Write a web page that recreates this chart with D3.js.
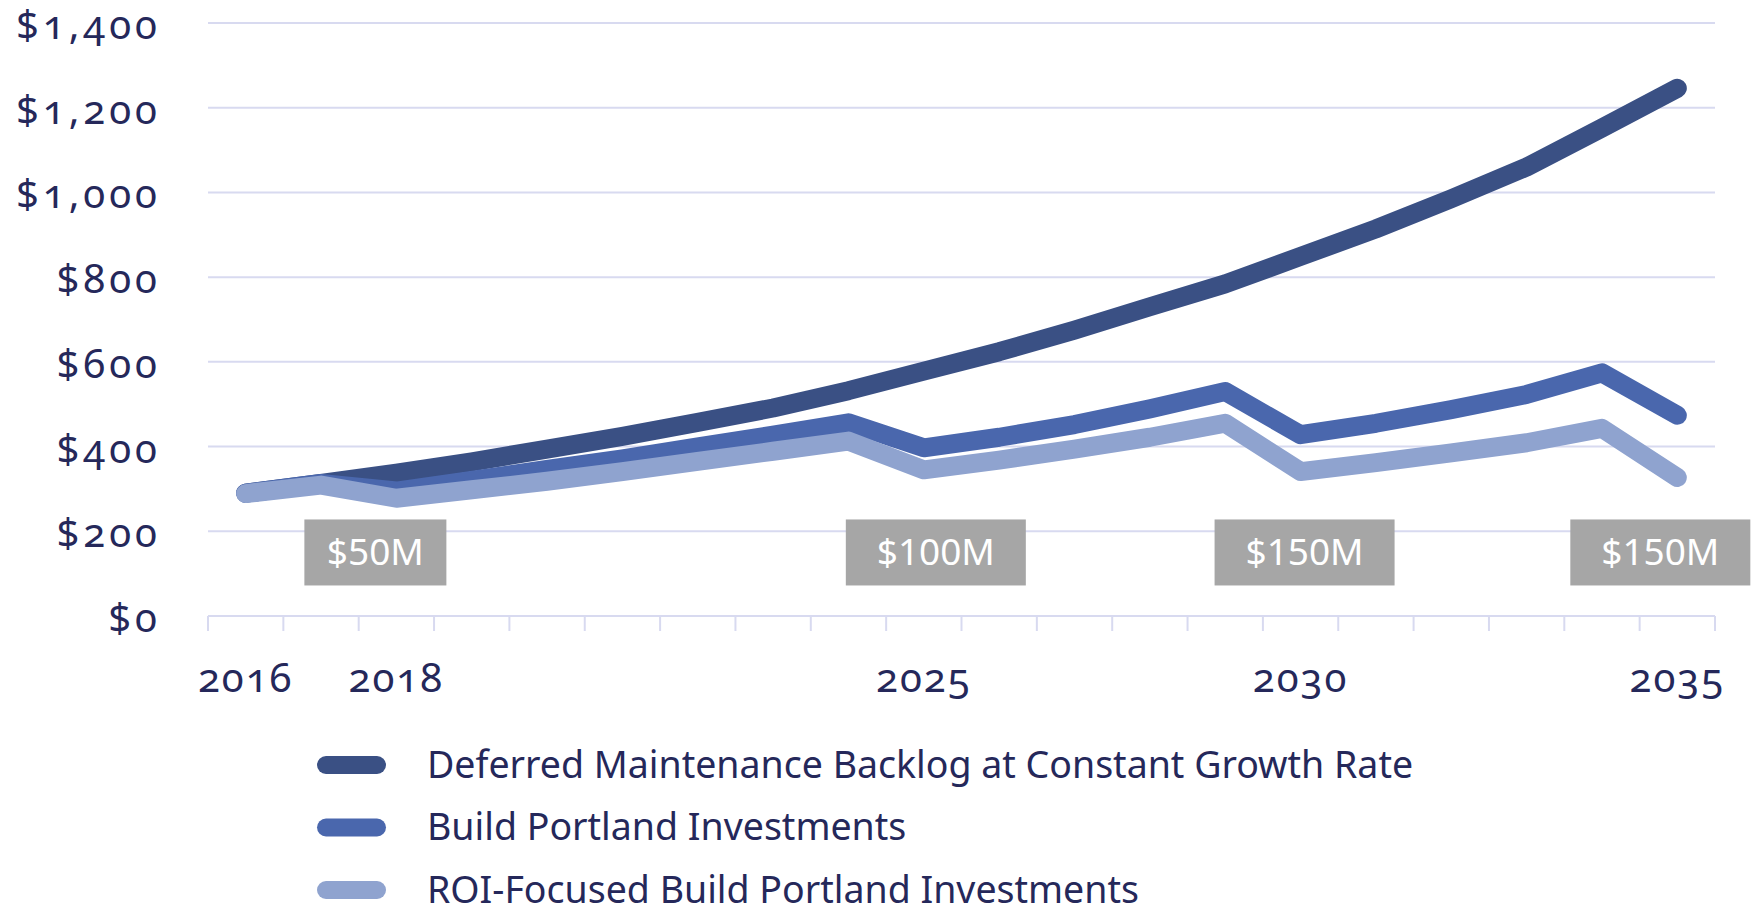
<!DOCTYPE html>
<html>
<head>
<meta charset="utf-8">
<script src="https://cdn.jsdelivr.net/npm/d3@7/dist/d3.min.js"></script>
<style>
  body { margin: 0; background: #fff; }
  text { font-family: "Noto Sans", sans-serif; fill: #25285a; }
  .num { font-variant-numeric: oldstyle-nums; font-feature-settings: "onum"; }
</style>
</head>
<body>
<div id="chart"></div>
<script>
// categories
const years = [2016, 2017, 2018, 2019, 2020, 2021, 2022, 2023, 2024, 2025,
               2026, 2027, 2028, 2029, 2030, 2031, 2032, 2033, 2034, 2035]

// series values ($M)
const backlog       = [290, 313, 337, 364, 394, 424, 457, 491, 532, 578,
                       624, 675, 730, 784, 849, 914, 985, 1060, 1152, 1246]
const buildPortland = [290, 313, 295, 320, 346, 371, 399, 427, 456, 397,
                       422, 452, 489, 530, 428, 455, 487, 523, 574, 474]
const roiFocused    = [289, 309, 278, 298, 318, 341, 365, 389, 413, 345,
                       368, 394, 422, 455, 341, 362, 385, 409, 443, 327]

const seriesNames = [
  "Deferred Maintenance Backlog at Constant Growth Rate",
  "Build Portland Investments",
  "ROI-Focused Build Portland Investments"
]
const seriesColors = ["#3a5084", "#4a67ad", "#8fa3cf"]

// tick labels
const yTicks = [0, 200, 400, 600, 800, 1000, 1200, 1400]
const xTickLabels = [2016, 2018, 2025, 2030, 2035]

// investment call-outs
const investLabels = ["$50M", "$100M", "$150M", "$150M"]
const investYears  = [2018, 2025, 2030, 2035]
const investNudge  = [-21, 12, 4, -17]

const W = 1756, H = 907
const MARGIN = { TOP: 23, BOTTOM: 291, LEFT: 208, RIGHT: 41 }
const WIDTH = W - MARGIN.LEFT - MARGIN.RIGHT
const HEIGHT = H - MARGIN.TOP - MARGIN.BOTTOM

const svg = d3.select("#chart").append("svg")
    .attr("width", W)
    .attr("height", H)

const g = svg.append("g")
    .attr("transform", `translate(${MARGIN.LEFT}, ${MARGIN.TOP})`)

const x = d3.scaleBand()
    .domain(years)
    .range([0, WIDTH])

const xc = d => x(d) + x.bandwidth() / 2

const y = d3.scaleLinear()
    .domain([0, 1400])
    .range([HEIGHT, 0])

// gridlines
g.append("g")
  .selectAll("line")
  .data(yTicks)
  .join("line")
    .attr("x1", 0)
    .attr("x2", WIDTH)
    .attr("y1", d => y(d))
    .attr("y2", d => y(d))
    .attr("stroke", "#d8daf0")
    .attr("stroke-width", 2)

// y labels
const fmt = d3.format(",")
g.append("g")
  .selectAll("text")
  .data(yTicks)
  .join("text")
    .attr("class", "num")
    .attr("x", -47)
    .attr("y", d => y(d) + 16)
    .attr("text-anchor", "end")
    .attr("font-size", 40)
    .attr("letter-spacing", 4)
    .text(d => "$" + fmt(d))

// x tick marks at band edges
const edges = years.map(d => x(d)).concat([WIDTH])
g.append("g")
  .selectAll("line")
  .data(edges)
  .join("line")
    .attr("x1", d => d)
    .attr("x2", d => d)
    .attr("y1", HEIGHT)
    .attr("y2", HEIGHT + 15)
    .attr("stroke", "#d8daf0")
    .attr("stroke-width", 2)

// x labels
g.append("g")
  .selectAll("text")
  .data(xTickLabels)
  .join("text")
    .attr("class", "num")
    .attr("x", d => xc(d))
    .attr("y", HEIGHT + 76)
    .attr("text-anchor", "middle")
    .attr("font-size", 40)
    .attr("letter-spacing", 2)
    .text(d => d)

// lines
const series = [backlog, buildPortland, roiFocused]
const line = d3.line()
    .x((d, i) => xc(years[i]))
    .y(d => y(d))

g.append("g")
  .selectAll("path")
  .data(series)
  .join("path")
    .attr("d", d => line(d))
    .attr("fill", "none")
    .attr("stroke", (d, i) => seriesColors[i])
    .attr("stroke-width", 19)
    .attr("stroke-linecap", "round")
    .attr("stroke-linejoin", "round")

// investment call-outs
const boxes = g.append("g")
  .selectAll("g")
  .data(investLabels)
  .join("g")
    .attr("transform", (d, i) => `translate(${xc(investYears[i]) + investNudge[i]}, ${y(150)})`)

boxes.append("rect")
    .attr("x", d => d.length > 4 ? -90 : -71)
    .attr("width", d => d.length > 4 ? 180 : 142)
    .attr("y", -33)
    .attr("height", 66)
    .attr("fill", "#a6a6a6")

boxes.append("text")
    .attr("text-anchor", "middle")
    .attr("y", 13)
    .attr("font-family", "'Open Sans', sans-serif")
    .attr("font-size", 37)
    .style("fill", "#fff")
    .text(d => d)

// legend
const legend = svg.append("g")
    .attr("transform", "translate(317, 765)")

const rows = legend.selectAll("g")
  .data(seriesNames)
  .join("g")
    .attr("transform", (d, i) => `translate(0, ${i * 62.5})`)

rows.append("line")
    .attr("x1", 9)
    .attr("x2", 60)
    .attr("stroke", (d, i) => seriesColors[i])
    .attr("stroke-width", 18)
    .attr("stroke-linecap", "round")

rows.append("text")
    .attr("x", 110)
    .attr("y", 12.5)
    .attr("font-size", 37.5)
    .text(d => d)
</script>
</body>
</html>
